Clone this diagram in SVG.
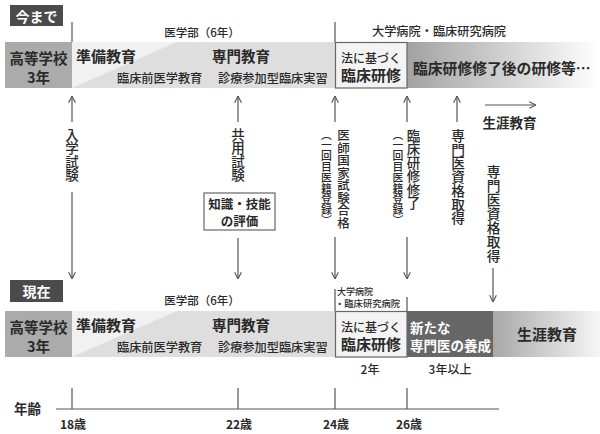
<svg xmlns="http://www.w3.org/2000/svg" width="600" height="434" viewBox="0 0 600 434">
<defs>
<linearGradient id="gTop" x1="0" y1="0" x2="1" y2="0">
<stop offset="0" stop-color="#a2a2a2"/>
<stop offset="1" stop-color="#ffffff"/>
</linearGradient>
<linearGradient id="gBot" x1="0" y1="0" x2="1" y2="0">
<stop offset="0" stop-color="#a8a8a8"/>
<stop offset="1" stop-color="#f6f6f6"/>
</linearGradient>
<marker id="arr" viewBox="0 0 10 10" refX="9.5" refY="5" markerWidth="8" markerHeight="8" markerUnits="userSpaceOnUse" orient="auto-start-reverse">
<path d="M1,0.8 L9.5,5 L1,9.2" fill="none" stroke="#555" stroke-width="1.4"/>
</marker>
<style>
text{font-family:"Noto Sans CJK JP","Noto Sans CJK SC",sans-serif;fill:#2a2a2a;}
.b{font-weight:700;}
.m{font-weight:500;}
.w{fill:#fff;}
.c{text-anchor:middle;dominant-baseline:central;}
.s{dominant-baseline:central;}
.v{writing-mode:vertical-rl;text-anchor:start;}
.ln{stroke:#555;stroke-width:1.2;fill:none;}
.ar{stroke:#555;stroke-width:1.2;fill:none;marker-end:url(#arr);}
.ar2{stroke:#555;stroke-width:1.2;fill:none;marker-start:url(#arr);}
</style>
</defs>

<!-- ===== TOP: 今まで ===== -->
<g id="label-imamade">
<rect x="10" y="5" width="53" height="21" fill="#4b4b4b"/>
<text class="c b w" x="36.5" y="15.5" font-size="14">今まで</text>
</g>
<g id="top-header">
<line class="ln" x1="72" y1="22" x2="72" y2="42"/>
<line class="ln" x1="335" y1="22" x2="335" y2="42"/>
<text class="c m" x="202" y="32" font-size="11.5">医学部（6年）</text>
<text class="c m" x="439" y="31" font-size="12.2">大学病院・臨床研究病院</text>
</g>
<g id="top-highschool">
<rect x="5" y="42" width="67" height="46" fill="#ababab"/>
<text class="c b" x="38.5" y="57" font-size="14.5">高等学校</text>
<text class="c b" x="38.5" y="76" font-size="14.5">3年</text>
</g>
<g id="top-med">
<rect x="72" y="42" width="263" height="46" fill="#dedede"/>
<polygon points="72,42 177,42 72,88" fill="#f1f1f1"/>
<text class="s b" x="76" y="55" font-size="15">準備教育</text>
<text class="s m" x="117" y="78" font-size="12.2">臨床前医学教育</text>
<text class="s b" x="212" y="55" font-size="14.5">専門教育</text>
<text class="s m" x="218" y="78" font-size="12.2">診療参加型臨床実習</text>
</g>
<g id="top-after">
<rect x="407" y="42" width="193" height="46" fill="url(#gTop)"/>
<text class="s b" x="413" y="67" font-size="14.8">臨床研修修了後の研修等…</text>
</g>
<g id="top-rinsho">
<rect x="335.5" y="42.5" width="71.5" height="45.5" fill="#f3f3f3" stroke="#666" stroke-width="1.2"/>
<text class="c m" x="371" y="57" font-size="12">法に基づく</text>
<text class="c b" x="371" y="74" font-size="15">臨床研修</text>
</g>

<!-- ===== Middle labels ===== -->
<g id="lbl-nyugaku">
<text class="v m" x="72" y="128" font-size="13.5">入学試験</text>
</g>
<g id="lbl-kyoyo">
<text class="v m" x="238" y="128" font-size="13.5">共用試験</text>
</g>
<g id="box-chishiki">
<rect x="204" y="193" width="71" height="37" fill="#fff" stroke="#666" stroke-width="1.2"/>
<text class="c b" x="239.5" y="203" font-size="12.5">知識・技能</text>
<text class="c b" x="239.5" y="220" font-size="12.5">の評価</text>
</g>
<g id="lbl-kokushi">
<text class="v m" x="343.5" y="129" font-size="12.5">医師国家試験合格</text>
<text class="v m" x="326.5" y="129" font-size="10.8">（一回目医籍登録）</text>
</g>
<g id="lbl-shuryo">
<text class="v m" x="413.5" y="129" font-size="13.5">臨床研修修了</text>
<text class="v m" x="398" y="129" font-size="10.8">（一回目医籍登録）</text>
</g>
<g id="lbl-senmon1">
<text class="v m" x="458" y="129" font-size="13.7">専門医資格取得</text>
</g>
<g id="lbl-senmon2">
<text class="v m" x="493.5" y="165" font-size="13.7" letter-spacing="0.3">専門医資格取得</text>
</g>
<g id="lbl-shogai-top">
<text class="c b" x="509.5" y="122" font-size="13.5">生涯教育</text>
</g>

<!-- ===== connectors ===== -->
<g id="connectors">
<line class="ar2" x1="72" y1="96" x2="72" y2="122"/>
<line class="ar" x1="72" y1="192" x2="72" y2="279"/>
<line class="ar2" x1="238" y1="96" x2="238" y2="122"/>
<line class="ar" x1="238" y1="238" x2="238" y2="279"/>
<line class="ar2" x1="335" y1="96" x2="335" y2="122"/>
<line class="ar" x1="335" y1="237" x2="335" y2="279"/>
<line class="ar2" x1="407" y1="96" x2="407" y2="122"/>
<line class="ar" x1="407" y1="237" x2="407" y2="279"/>
<line class="ar2" x1="457" y1="96" x2="457" y2="122"/>
<line class="ar" x1="493" y1="268" x2="493" y2="302"/>
<line class="ar" x1="485" y1="105" x2="536" y2="105"/>
</g>

<!-- ===== BOTTOM: 現在 ===== -->
<g id="label-genzai">
<rect x="10" y="280" width="53" height="22" fill="#4b4b4b"/>
<text class="c b w" x="36.5" y="291" font-size="14">現在</text>
</g>
<g id="bot-header">
<text class="c m" x="202" y="300" font-size="11.5">医学部（6年）</text>
<line class="ln" x1="335" y1="289" x2="335" y2="311"/>
<line class="ln" x1="407" y1="297" x2="407" y2="311"/>
<text class="m" x="337" y="291" font-size="9" dominant-baseline="central">大学病院</text>
<text class="m" x="335" y="302.5" font-size="9.3" dominant-baseline="central">・臨床研究病院</text>
</g>
<g id="bot-highschool">
<rect x="5" y="311" width="67" height="46" fill="#ababab"/>
<text class="c b" x="38.5" y="326" font-size="14.5">高等学校</text>
<text class="c b" x="38.5" y="345" font-size="14.5">3年</text>
</g>
<g id="bot-med">
<rect x="72" y="311" width="263" height="46" fill="#dedede"/>
<polygon points="72,311 177,311 72,357" fill="#f1f1f1"/>
<text class="s b" x="76" y="324" font-size="15">準備教育</text>
<text class="s m" x="117" y="347" font-size="12.2">臨床前医学教育</text>
<text class="s b" x="212" y="324" font-size="14.5">専門教育</text>
<text class="s m" x="218" y="347" font-size="12.2">診療参加型臨床実習</text>
</g>
<g id="bot-rinsho">
<rect x="335.5" y="311.5" width="71.5" height="45.5" fill="#f3f3f3" stroke="#666" stroke-width="1.2"/>
<text class="c m" x="371" y="326" font-size="12">法に基づく</text>
<text class="c b" x="371" y="343" font-size="15">臨床研修</text>
</g>
<g id="bot-senmon">
<rect x="407" y="311" width="86" height="46" fill="#666"/>
<text class="s b w" x="410" y="326.5" font-size="13.5">新たな</text>
<text class="s b w" x="410" y="344.5" font-size="13.5">専門医の養成</text>
</g>
<g id="bot-shogai">
<rect x="493" y="311" width="107" height="46" fill="url(#gBot)"/>
<text class="c b" x="547" y="333" font-size="15">生涯教育</text>
</g>
<g id="bot-years">
<text class="c m" x="370" y="368" font-size="12">2年</text>
<text class="c m" x="450" y="368" font-size="12">3年以上</text>
</g>

<!-- ===== Age axis ===== -->
<g id="age-axis">
<text class="s b" x="14" y="408" font-size="13.5">年齢</text>
<line class="ln" x1="56" y1="409" x2="499" y2="409"/>
<line class="ln" x1="72" y1="388" x2="72" y2="409"/>
<line class="ln" x1="238" y1="388" x2="238" y2="409"/>
<line class="ln" x1="335" y1="388" x2="335" y2="409"/>
<line class="ln" x1="407" y1="388" x2="407" y2="409"/>
<text class="c b" x="73" y="423" font-size="12">18歳</text>
<text class="c b" x="239" y="423" font-size="12">22歳</text>
<text class="c b" x="336" y="423" font-size="12">24歳</text>
<text class="c b" x="409" y="423" font-size="12">26歳</text>
</g>
</svg>
